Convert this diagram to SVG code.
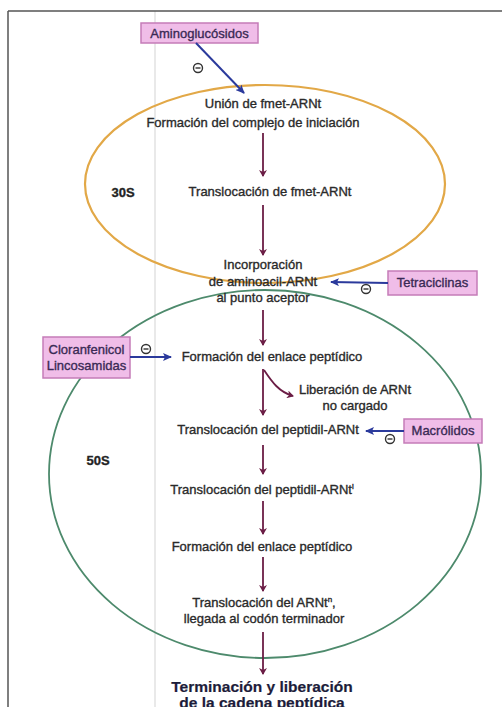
<svg xmlns="http://www.w3.org/2000/svg" width="502" height="707" viewBox="0 0 502 707">
<defs>
<marker id="ah" markerWidth="8" markerHeight="8" refX="6" refY="4" orient="auto" markerUnits="userSpaceOnUse">
<path d="M0,0 L7,4 L0,8 L2,4 Z" fill="#6b1d45"/>
</marker>
<marker id="ab" markerWidth="10" markerHeight="8" refX="8" refY="4" orient="auto" markerUnits="userSpaceOnUse">
<path d="M0,0 L9,4 L0,8 L2,4 Z" fill="#2b3a9c"/>
</marker>
<style>
text{font-family:"Liberation Sans",Arial,sans-serif;font-size:13px;fill:#2a2a2a;stroke:#2a2a2a;stroke-width:0.35;text-anchor:middle}
.lbl{font-weight:bold;font-size:13px;fill:#222}
.box rect{fill:#f0bde8;stroke:#c57cb8;stroke-width:1.5}
.box text{fill:#3a2a55;stroke:#3a2a55;font-size:13px}
.step{stroke:#6b1d45;stroke-width:1.8;fill:none}
.inh{stroke:#2b3a9c;stroke-width:2;fill:none}
.minus circle{fill:none;stroke:#333;stroke-width:1.4}
.minus line{stroke:#333;stroke-width:1.4}
.fin{font-weight:bold;font-size:15.5px;fill:#1c1c3a;stroke:#1c1c3a;stroke-width:0.2}
</style>
</defs>
<rect width="502" height="707" fill="#fff"/>
<g id="frame">
<line x1="155" y1="11" x2="155" y2="707" stroke="#e2e2e2" stroke-width="1.5"/>
<line x1="8" y1="11" x2="502" y2="11" stroke="#555" stroke-width="1.5"/>
<line x1="8" y1="11" x2="8" y2="707" stroke="#555" stroke-width="1.5"/>
</g>
<g id="ribo30S">
<ellipse cx="265" cy="184" rx="180" ry="99" fill="none" stroke="#e2a847" stroke-width="2.2"/>
<text class="lbl" x="123" y="197">30S</text>
</g>
<g id="ribo50S">
<ellipse cx="265" cy="474" rx="216" ry="184" fill="none" stroke="#4d8a6c" stroke-width="1.8"/>
<text class="lbl" x="98" y="465">50S</text>
</g>
<g id="n1"><text x="263" y="108">Unión de fmet-ARNt</text><text x="253" y="127">Formación del complejo de iniciación</text></g>
<g id="n2"><text x="270" y="196">Translocación de fmet-ARNt</text></g>
<g id="n3"><text x="263" y="269">Incorporación</text><text x="263" y="286">de aminoacil-ARNt</text><text x="263" y="302">al punto aceptor</text></g>
<g id="n4"><text x="272" y="361">Formación del enlace peptídico</text></g>
<g id="n5"><text x="355" y="394">Liberación de ARNt</text><text x="355" y="410">no cargado</text></g>
<g id="n6"><text x="268" y="434">Translocación del peptidil-ARNt</text></g>
<g id="n7"><text x="262" y="494">Translocación del peptidil-ARNt<tspan font-size="8" dy="-5">i</tspan></text></g>
<g id="n8"><text x="262" y="551">Formación del enlace peptídico</text></g>
<g id="n9"><text x="264" y="607">Translocación del ARNt<tspan font-size="8" dy="-5">n</tspan><tspan dy="5">,</tspan></text><text x="264" y="623">llegada al codón terminador</text></g>
<g id="n10"><text class="fin" x="262" y="692">Terminación y liberación</text><text class="fin" x="262" y="708">de la cadena peptídica</text></g>
<g id="d1" class="box"><rect x="141" y="23" width="117" height="20"/><text x="199.5" y="38">Aminoglucósidos</text></g>
<g id="d2" class="box"><rect x="388" y="271" width="89" height="24"/><text x="432.5" y="287">Tetraciclinas</text></g>
<g id="d3" class="box"><rect x="43" y="337" width="87" height="41"/><text x="86.5" y="354">Cloranfenicol</text><text x="86.5" y="370">Lincosamidas</text></g>
<g id="d4" class="box"><rect x="404" y="419" width="78" height="24"/><text x="443" y="435">Macrólidos</text></g>
<g id="connectors">
<line class="step" x1="263" y1="133" x2="263" y2="176" marker-end="url(#ah)"/>
<line class="step" x1="263" y1="205" x2="263" y2="255" marker-end="url(#ah)"/>
<line class="step" x1="263" y1="310" x2="263" y2="345" marker-end="url(#ah)"/>
<line class="step" x1="263" y1="369" x2="263" y2="415" marker-end="url(#ah)"/>
<path class="step" d="M264,370 C272,382 279,392 293,396" marker-end="url(#ah)"/>
<line class="step" x1="263" y1="445" x2="263" y2="474" marker-end="url(#ah)"/>
<line class="step" x1="263" y1="501" x2="263" y2="534" marker-end="url(#ah)"/>
<line class="step" x1="263" y1="557" x2="263" y2="591" marker-end="url(#ah)"/>
<line class="step" x1="263" y1="632" x2="263" y2="674" marker-end="url(#ah)"/>
<line class="inh" x1="196" y1="43" x2="244" y2="93" marker-end="url(#ab)"/>
<line class="inh" x1="388" y1="283" x2="331" y2="282" marker-end="url(#ab)"/>
<line class="inh" x1="130" y1="357" x2="171" y2="357" marker-end="url(#ab)"/>
<line class="inh" x1="404" y1="431" x2="366" y2="431" marker-end="url(#ab)"/>
<g class="minus"><circle cx="198" cy="68" r="4.5"/><line x1="195.5" y1="68" x2="200.5" y2="68"/></g>
<g class="minus"><circle cx="366" cy="289" r="4.5"/><line x1="363.5" y1="289" x2="368.5" y2="289"/></g>
<g class="minus"><circle cx="146" cy="349" r="4.5"/><line x1="143.5" y1="349" x2="148.5" y2="349"/></g>
<g class="minus"><circle cx="390" cy="439" r="4.5"/><line x1="387.5" y1="439" x2="392.5" y2="439"/></g>
</g>
</svg>
